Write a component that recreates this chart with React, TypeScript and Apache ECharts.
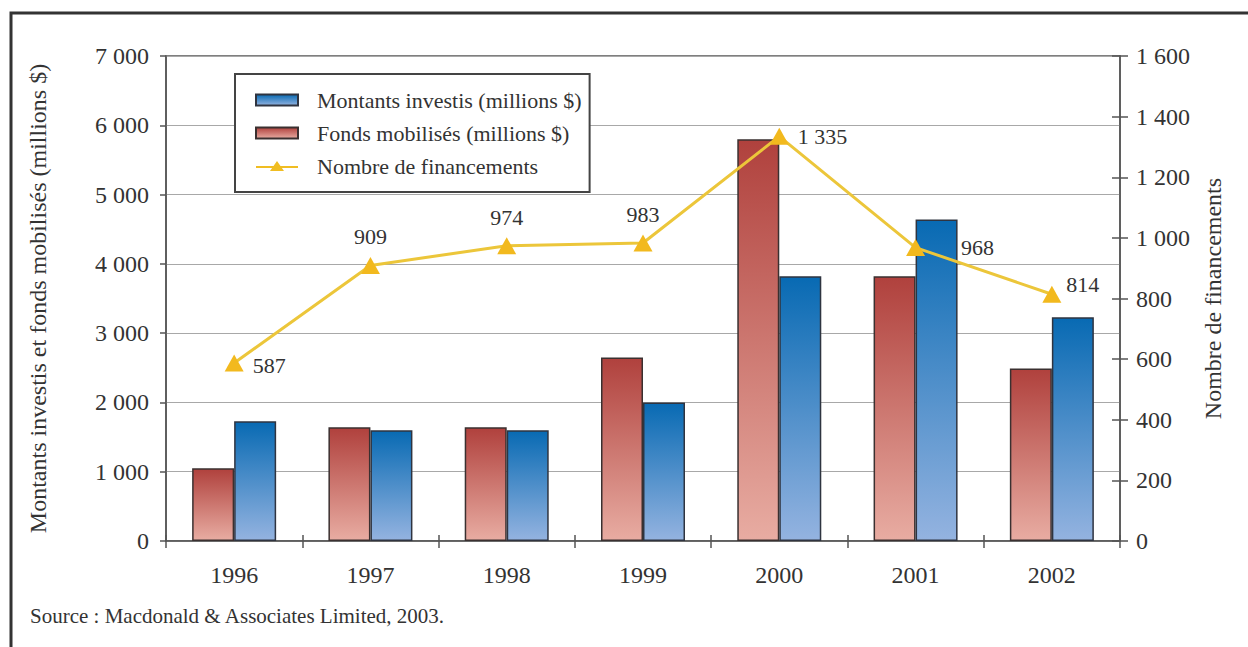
import React, { useEffect, useRef } from "react";
import * as echarts from "echarts";

const years = ["1996", "1997", "1998", "1999", "2000", "2001", "2002"];
const fondsMobilises = [1050, 1640, 1640, 2650, 5800, 3820, 2490];
const montantsInvestis = [1730, 1600, 1600, 2000, 3820, 4640, 3230];
const nombreFinancements = [587, 909, 974, 983, 1335, 968, 814];
const labelSides = ["right", "top", "top", "top", "right", "right", "right"];

const NAME_MI = "Montants investis (millions $)";
const NAME_FM = "Fonds mobilisés (millions $)";
const NAME_NF = "Nombre de financements";
const SOURCE = "Source : Macdonald & Associates Limited, 2003.";

const FONT = "Liberation Serif";
const TXT = "#333333";
const LINE_ICON =
  "path://M0,5 L17.5,5 L21,0 L24.5,5 L42,5 L42,7 L25.9,7 L28,10 L14,10 L16.1,7 L0,7 Z";

const fmt = (v: number) => String(v).replace(/\B(?=(\d{3})+(?!\d))/g, " ");

export default function App() {
  const ref = useRef<HTMLDivElement>(null);
  useEffect(() => {
    if (!ref.current) return;
    const chart = echarts.init(ref.current, undefined, { renderer: "svg" });
    const redGrad = new echarts.graphic.LinearGradient(0, 0, 0, 1, [
      { offset: 0, color: "#b0413d" },
      { offset: 1, color: "#e8aca2" },
    ]);
    const blueGrad = new echarts.graphic.LinearGradient(0, 0, 0, 1, [
      { offset: 0, color: "#086ab3" },
      { offset: 1, color: "#94b3e0" },
    ]);
    const lineData = nombreFinancements.map((v, i) => {
      const side = labelSides[i];
      const label: any = { position: side };
      if (i === 5) label.distance = 36;
      if (i === 6) label.offset = [-4, -10];
      if (i === 0) label.offset = [0, 2];
      return { value: v, label };
    });
    chart.setOption({
      animation: false,
      backgroundColor: "#ffffff",
      textStyle: { fontFamily: FONT },
      grid: {
        left: 166,
        right: 128,
        top: 56,
        bottom: 106,
        show: true,
        borderColor: "#555555",
        borderWidth: 1.5,
        backgroundColor: "transparent",
      },
      legend: {
        orient: "vertical",
        left: 235,
        top: 74,
        padding: [15, 8, 15, 20],
        borderColor: "#444444",
        borderWidth: 2,
        backgroundColor: "#ffffff",
        itemWidth: 42,
        itemHeight: 11,
        itemGap: 11,
        textStyle: {
          fontFamily: FONT,
          fontSize: 22,
          color: TXT,
          lineHeight: 22,
          padding: [0, 0, 0, 14],
        },
        data: [
          { name: NAME_MI, icon: "rect" },
          { name: NAME_FM, icon: "rect" },
          {
            name: NAME_NF,
            icon: LINE_ICON,
            itemStyle: { color: "#f0bd22", borderWidth: 0 },
          },
        ],
      },
      xAxis: [
        {
          type: "category",
          data: years,
          axisLine: { lineStyle: { color: "#555555", width: 1.5 } },
          axisTick: { show: true, length: 7, lineStyle: { color: "#555555", width: 1.5 } },
          axisLabel: { fontFamily: FONT, fontSize: 24, color: TXT, margin: 22 },
        },
        {
          type: "category",
          data: years,
          position: "bottom",
          axisLine: { show: false },
          axisTick: { show: true, inside: true, length: 6, lineStyle: { color: "#555555", width: 1.5 } },
          axisLabel: { show: false },
        },
      ],
      yAxis: [
        {
          type: "value",
          min: 0,
          max: 7000,
          interval: 1000,
          name: "Montants investis et fonds mobilisés (millions $)",
          nameLocation: "middle",
          nameGap: 116,
          nameTextStyle: { fontFamily: FONT, fontSize: 24, color: TXT },
          axisLine: { show: true, lineStyle: { color: "#555555", width: 1.5 } },
          axisTick: { show: true, length: 6, lineStyle: { color: "#555555", width: 1.5 } },
          axisLabel: { fontFamily: FONT, fontSize: 24, color: TXT, margin: 17, formatter: fmt },
          splitLine: { show: true, lineStyle: { color: "#a8a8a8", width: 1.2 } },
        },
        {
          type: "value",
          position: "right",
          min: 0,
          max: 1600,
          interval: 200,
          name: NAME_NF,
          nameLocation: "middle",
          nameGap: 81,
          nameRotate: 90,
          nameTextStyle: { fontFamily: FONT, fontSize: 24, color: TXT },
          axisLine: { show: true, lineStyle: { color: "#555555", width: 1.5 } },
          axisTick: { show: true, length: 8, lineStyle: { color: "#555555", width: 1.5 } },
          axisLabel: { fontFamily: FONT, fontSize: 24, color: TXT, margin: 16, formatter: fmt },
          splitLine: { show: false },
        },
        {
          type: "value",
          position: "right",
          min: 0,
          max: 1600,
          interval: 200,
          axisLine: { show: false },
          axisTick: { show: true, inside: true, length: 8, lineStyle: { color: "#555555", width: 1.5 } },
          axisLabel: { show: false },
          splitLine: { show: false },
        },
      ],
      series: [
        {
          name: NAME_FM,
          type: "bar",
          xAxisIndex: 0,
          yAxisIndex: 0,
          data: fondsMobilises,
          barWidth: 42,
          barGap: "0%",
          itemStyle: { color: redGrad, borderColor: "#3a3030", borderWidth: 1.5 },
        },
        {
          name: NAME_MI,
          type: "bar",
          xAxisIndex: 0,
          yAxisIndex: 0,
          data: montantsInvestis,
          barWidth: 42,
          barGap: "0%",
          itemStyle: { color: blueGrad, borderColor: "#2f3440", borderWidth: 1.5 },
        },
        {
          name: NAME_NF,
          type: "line",
          xAxisIndex: 0,
          yAxisIndex: 1,
          data: lineData,
          z: 5,
          symbol: "triangle",
          symbolSize: [19, 17],
          lineStyle: { color: "#ecc63a", width: 3 },
          itemStyle: { color: "#f2b91e" },
          label: {
            show: true,
            fontFamily: FONT,
            fontSize: 22,
            color: TXT,
            distance: 9,
            formatter: (p: any) => fmt(p.value),
          },
        },
      ],
      graphic: [
        {
          type: "rect",
          shape: { x: 11, y: 13, width: 1300, height: 700 },
          style: { fill: "none", stroke: "#333333", lineWidth: 3 },
          silent: true,
        },
        {
          type: "text",
          left: 30,
          top: 605,
          style: { text: SOURCE, fontFamily: FONT, fontSize: 21, fill: TXT },
        },
      ],
    });
    return () => chart.dispose();
  }, []);
  return (
    <div
      ref={ref}
      style={{ position: "absolute", left: 0, top: 0, width: 1248, height: 647 }}
    />
  );
}
